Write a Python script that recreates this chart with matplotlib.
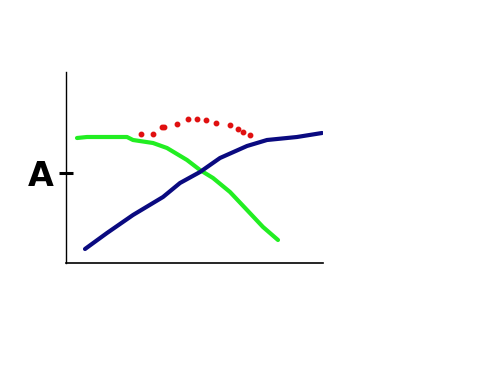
import matplotlib
matplotlib.use("Agg")
import matplotlib.pyplot as plt

# hand-drawn curves (x and y in axis units)
green_x = [11, 21, 61, 67, 87, 101, 121, 134, 147, 164, 181, 197, 212]
green_y = [125, 126, 126, 123, 120, 115, 103, 93, 85, 71, 53, 36, 23]

navy_x = [19, 41, 67, 97, 114, 134, 154, 181, 201, 231, 256]
navy_y = [14, 30, 48, 66, 80, 91, 105, 117, 123, 126, 130]

red_x = [75, 87, 96, 98, 111, 122, 131, 140, 150, 164, 172, 177, 184]
red_y = [129, 129, 136, 136, 139, 144, 144, 143, 140, 138, 134, 131, 128]

tick_pos = [90]
tick_labels = ["A"]

fig = plt.figure(figsize=(4.87, 3.85), dpi=100)
ax = fig.add_axes([66 / 487, (385 - 263) / 385, 257 / 487, 191 / 385])

ax.plot(green_x, green_y, color="#22ee22", lw=3.0, solid_capstyle="round")
ax.plot(navy_x, navy_y, color="#0a0a80", lw=3.0, solid_capstyle="round")
ax.plot(red_x, red_y, ls="none", marker="o", ms=3.2, color="#e01010")

ax.set_xlim(0, 257)
ax.set_ylim(0, 191)

for side in ["top", "right"]:
    ax.spines[side].set_visible(False)
ax.spines["left"].set_linewidth(1.0)
ax.spines["bottom"].set_linewidth(1.2)

ax.set_xticks([])
ax.set_yticks(tick_pos)
ax.set_yticklabels(tick_labels, fontsize=24, fontweight="bold")
ax.tick_params(axis="y", direction="inout", length=9.5, width=2.2, pad=4)

fig.savefig("out.png", dpi=100)
